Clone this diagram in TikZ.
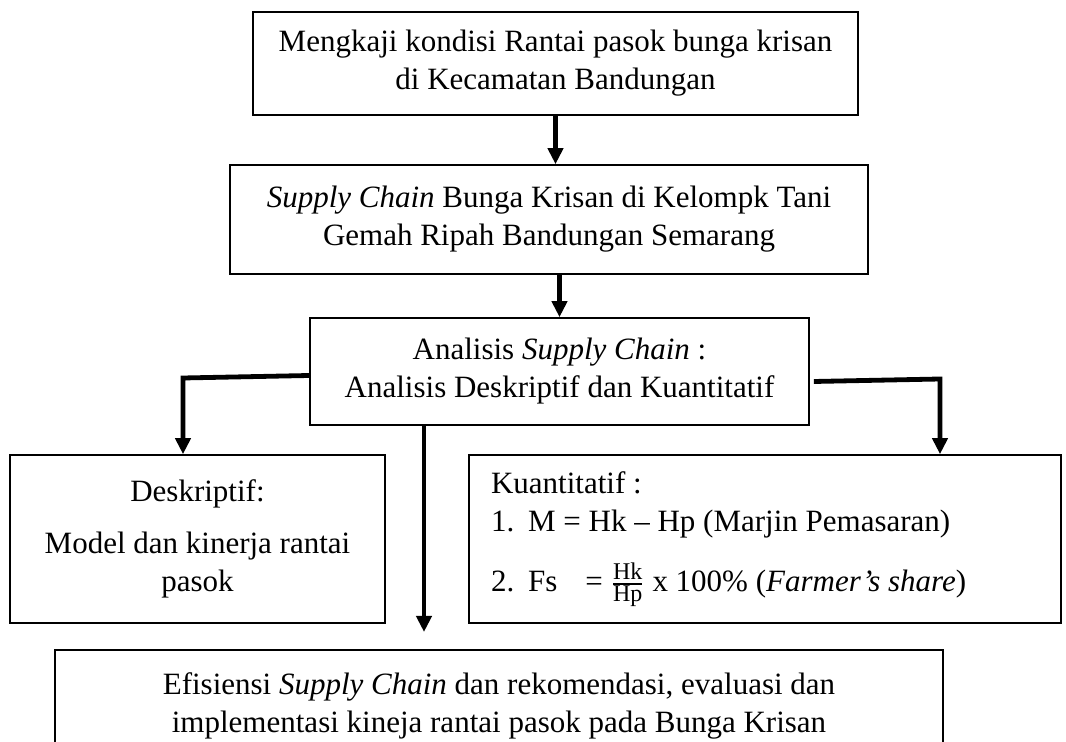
\documentclass[tikz,border=0pt]{standalone}
\usepackage{fontspec}
\usepackage{amsmath}
\setmainfont{Liberation Serif}
\usetikzlibrary{arrows.meta}
\begin{document}
\fontsize{15.5}{19}\selectfont
\begin{tikzpicture}[x=0.5pt,y=-0.5pt,
		box/.style={draw,line width=0.8pt,align=center,inner sep=0pt},
		arr/.style={line width=2.4pt,-{Triangle[length=8pt,width=7.5pt]}}]
	\useasboundingbox (0,0) rectangle (1066,742);
	\node[box,minimum width=302.5pt,minimum height=51.5pt] (kaji) at (555.5,63.5)
		{Mengkaji kondisi Rantai pasok bunga krisan\\di Kecamatan Bandungan};
	\node[box,minimum width=319pt,minimum height=54.5pt] (sc) at (549,219.5)
		{\textit{Supply Chain} Bunga Krisan di Kelompk Tani\\Gemah Ripah Bandungan Semarang};
	\node[box,minimum width=249.5pt,minimum height=53.5pt] (anl) at (559.5,371.5)
		{Analisis \textit{Supply Chain} :\\Analisis Deskriptif dan Kuantitatif};
	\node[box,minimum width=187.5pt,minimum height=84pt] (desk) at (197.5,539)
		{Deskriptif:\\[7pt]Model dan kinerja rantai\\pasok};
	\node[box,minimum width=296pt,minimum height=84pt,align=flush left,text width=274pt,inner xsep=11pt] (kuan) at (765,539)
		{Kuantitatif :\\
		1.\hspace{0.45em}M = Hk – Hp (Marjin Pemasaran)\\[11pt]
		2.\hspace{0.45em}Fs\hspace{0.9em}= $\frac{\text{\fontsize{12}{12}\selectfont Hk}}{\text{\fontsize{12}{12}\selectfont Hp}}$ x 100\% (\textit{Farmer’s share})};
	\node[box,minimum width=444pt,minimum height=56pt] (efi) at (499,706)
		{Efisiensi \textit{Supply Chain} dan rekomendasi, evaluasi dan\\implementasi kineja rantai pasok pada Bunga Krisan};

	\coordinate (lk) at (183,378);
	\coordinate (rk) at (940,379);
	\coordinate (mk) at (424,632);
	\draw[arr] (kaji.south) -- (kaji.south |- sc.north);
	\draw[arr] (anl.north |- sc.south) -- (anl.north);
	\draw[arr] ([yshift=-2pt]anl.west) -- (lk) -- (lk |- desk.north);
	\draw[arr] ([xshift=2pt,yshift=-5pt]anl.east) -- (rk) -- (rk |- kuan.north);
	\draw[arr] (anl.south -| mk) -- (mk);
\end{tikzpicture}
\end{document}
